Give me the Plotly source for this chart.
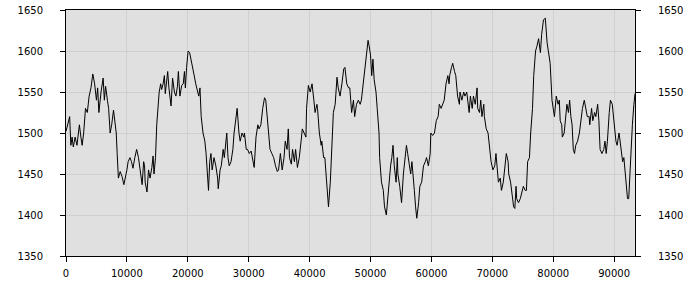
import plotly.graph_objects as go

x_vals = [0, 300, 600, 800, 1000, 1200, 1500, 1800, 2000, 2200, 2450, 2650, 2900, 3200, 3500, 3800, 4100, 4400, 4700, 5000,
          5200, 5400, 5750, 6100, 6300, 6500, 6800, 7000, 7250, 7500, 7800, 8050, 8250, 8400, 8600, 8900, 9200, 9500, 9750, 10000,
          10200, 10500, 10750, 11000, 11300, 11600, 11900, 12200, 12500, 12750, 12900, 13000, 13300, 13550, 13800, 14100, 14300, 14450, 14700, 14900,
          15100, 15300, 15550, 15700, 15950, 16150, 16300, 16500, 16700, 16900, 17100, 17250, 17500, 17800, 18050, 18300, 18450, 18700, 19000, 19250,
          19450, 19600, 19800, 20050, 20300, 20700, 21000, 21300, 21500, 21800, 22000, 22200, 22500, 22800, 23000, 23200, 23400, 23600, 23800, 24000,
          24300, 24600, 24900, 25000, 25300, 25500, 25800, 26000, 26200, 26400, 26600, 26800, 27100, 27400, 27600, 27900, 28100, 28400, 28600, 28900,
          29200, 29300, 29600, 29800, 30100, 30400, 30700, 30900, 31200, 31500, 31700, 32000, 32300, 32600, 32800, 33000, 33300, 33500, 33800, 34100,
          34400, 34700, 34900, 35200, 35500, 35800, 36000, 36300, 36500, 36700, 37000, 37200, 37500, 37700, 38000, 38300, 38600, 38800, 39100, 39400,
          39500, 39800, 40100, 40400, 40700, 40900, 41200, 41300, 41600, 41900, 42000, 42300, 42500, 42700, 42900, 43100, 43400, 43700, 43900, 44200,
          44500, 44700, 45000, 45300, 45600, 45800, 46100, 46400, 46600, 46900, 47200, 47400, 47700, 48000, 48300, 48500, 48800, 49000, 49300, 49600,
          49800, 50000, 50200, 50400, 50600, 50900, 51100, 51400, 51500, 51800, 52100, 52300, 52600, 52800, 53100, 53300, 53500, 53700, 53900, 54200,
          54400, 54500, 54800, 55100, 55400, 55700, 55900, 56100, 56400, 56600, 56800, 57000, 57200, 57400, 57600, 57900, 58100, 58400, 58700, 59000,
          59200, 59500, 59800, 59900, 60200, 60500, 60800, 61100, 61300, 61600, 61900, 62100, 62400, 62700, 62900, 63000, 63300, 63500, 63800, 64000,
          64300, 64600, 64700, 65000, 65300, 65500, 65800, 66000, 66200, 66400, 66700, 66900, 67200, 67500, 67600, 67900, 68100, 68300, 68600, 68700,
          69000, 69300, 69600, 69800, 70100, 70400, 70600, 70800, 71000, 71300, 71500, 71800, 72100, 72300, 72600, 72700, 73000, 73300, 73500, 73700,
          73900, 74000, 74300, 74600, 74900, 75100, 75400, 75600, 75800, 76100, 76300, 76600, 76800, 77100, 77300, 77600, 77900, 78100, 78400, 78700,
          79000, 79200, 79500, 79800, 80200, 80500, 80800, 81000, 81150, 81400, 81500, 81800, 82000, 82250, 82500, 82700, 82900, 83100, 83300, 83500,
          83700, 84000, 84300, 84500, 84800, 85100, 85300, 85600, 85900, 86000, 86300, 86500, 86800, 87000, 87300, 87500, 87700, 88000, 88300, 88500,
          88700, 88900, 89200, 89400, 89700, 89900, 90100, 90300, 90500, 90800, 90900, 91100, 91400, 91600, 91800, 92000, 92200, 92400, 92600, 92800,
          93000, 93250, 93430]

y_vals = [1502, 1510, 1520, 1485, 1495, 1483, 1495, 1485, 1500, 1510, 1495, 1485, 1500, 1530, 1525, 1545, 1555, 1572, 1560, 1540,
          1555, 1525, 1550, 1567, 1540, 1557, 1540, 1530, 1500, 1510, 1528, 1510, 1500, 1475, 1445, 1453, 1447, 1437, 1445, 1455,
          1465, 1470, 1465, 1457, 1470, 1480, 1470, 1450, 1437, 1465, 1460, 1440, 1428, 1455, 1445, 1458, 1472, 1450, 1470, 1510,
          1530, 1550, 1560, 1553, 1560, 1570, 1548, 1560, 1575, 1555, 1545, 1533, 1567, 1550, 1545, 1557, 1575, 1545, 1558, 1560,
          1575, 1555, 1580, 1600, 1598, 1585, 1572, 1560, 1555, 1545, 1555, 1520, 1500, 1490, 1475, 1445, 1430, 1465, 1475, 1455,
          1470, 1460, 1445, 1432, 1455, 1460, 1480, 1470, 1485, 1500, 1470, 1460, 1465, 1480, 1500, 1520, 1530, 1500, 1490, 1500,
          1495, 1500, 1480, 1480, 1475, 1478, 1465, 1458, 1495, 1510, 1505, 1510, 1530, 1543, 1540, 1525, 1500, 1480, 1475, 1470,
          1460, 1453, 1455, 1475, 1455, 1470, 1490, 1480, 1505, 1470, 1462, 1480, 1465, 1480, 1458, 1470, 1490, 1505, 1500, 1495,
          1530, 1558, 1550, 1560, 1540, 1525, 1535, 1530, 1500, 1485, 1490, 1470, 1470, 1450, 1425, 1410, 1440, 1500, 1525, 1535,
          1568, 1555, 1545, 1560, 1578, 1580, 1560, 1555, 1555, 1525, 1540, 1520, 1535, 1540, 1535, 1540, 1558, 1575, 1590, 1613,
          1605, 1595, 1570, 1590, 1565, 1550, 1530, 1500, 1470, 1440, 1430, 1410, 1400, 1420, 1440, 1460, 1470, 1485, 1460, 1440,
          1470, 1450, 1435, 1415, 1450, 1475, 1485, 1475, 1460, 1450, 1465, 1440, 1430, 1410, 1396, 1415, 1435, 1440, 1460, 1465,
          1470, 1460, 1475, 1500, 1497, 1500, 1515, 1520, 1535, 1530, 1535, 1540, 1560, 1570, 1560, 1570, 1580, 1585, 1575, 1570,
          1545, 1535, 1550, 1540, 1550, 1545, 1550, 1535, 1525, 1545, 1530, 1545, 1535, 1555, 1530, 1525, 1540, 1520, 1535, 1520,
          1505, 1500, 1480, 1465, 1455, 1460, 1475, 1460, 1440, 1445, 1430, 1440, 1460, 1475, 1465, 1450, 1440, 1420, 1410, 1408,
          1435, 1420, 1415, 1420, 1430, 1435, 1430, 1430, 1465, 1470, 1500, 1530, 1570, 1600, 1605, 1615, 1598, 1620, 1638, 1640,
          1610, 1600, 1585, 1540, 1520, 1545, 1535, 1540, 1515, 1510, 1495, 1500, 1515, 1535, 1525, 1540, 1520, 1510, 1480, 1475,
          1485, 1490, 1500, 1515, 1530, 1540, 1530, 1520, 1520, 1510, 1530, 1515, 1525, 1520, 1535, 1515, 1480, 1475, 1480, 1490,
          1475, 1490, 1525, 1540, 1535, 1520, 1505, 1490, 1485, 1500, 1495, 1480, 1465, 1470, 1450, 1435, 1420, 1420, 1450, 1490,
          1510, 1535, 1548]

y_ticks = [1350, 1400, 1450, 1500, 1550, 1600, 1650]
x_ticks = [0, 10000, 20000, 30000, 40000, 50000, 60000, 70000, 80000, 90000]

fig = go.Figure()
fig.add_trace(go.Scatter(x=x_vals, y=y_vals, mode="lines",
                         line=dict(color="black", width=1), showlegend=False,
                         hoverinfo="x+y"))
# same series bound to the right-hand axis (drawn transparent) so that axis is rendered
fig.add_trace(go.Scatter(x=x_vals, y=y_vals, mode="lines", yaxis="y2",
                         line=dict(color="rgba(0,0,0,0)", width=1), showlegend=False,
                         hoverinfo="skip"))

font = dict(family="DejaVu Sans", size=10, color="black")
fig.update_layout(
    width=700, height=300,
    margin=dict(l=66, r=65, t=10, b=44, autoexpand=False),
    paper_bgcolor="white",
    plot_bgcolor="#e0e0e0",
    font=font,
    xaxis=dict(range=[0, x_vals[-1]], tickvals=x_ticks, ticktext=[str(v) for v in x_ticks],
               showgrid=True, gridcolor="#d0d0d0", gridwidth=1, zeroline=False,
               showline=True, linecolor="black", linewidth=1, mirror=True, automargin=False,
               ticks="outside", ticklen=5, tickcolor="black", tickfont=font,
               ticklabelstandoff=3),
    yaxis=dict(range=[1350, 1650], tickvals=y_ticks, ticktext=[str(v) for v in y_ticks],
               showgrid=True, gridcolor="#d0d0d0", gridwidth=1, zeroline=False,
               showline=True, linecolor="black", linewidth=1, mirror=True, automargin=False,
               ticks="outside", ticklen=5, tickcolor="black", tickfont=font,
               ticklabelstandoff=15),
    yaxis2=dict(range=[1350, 1650], tickvals=y_ticks, ticktext=[str(v) for v in y_ticks],
                overlaying="y", side="right", showgrid=False, zeroline=False, automargin=False,
                showline=True, linecolor="black", linewidth=1,
                ticks="outside", ticklen=5, tickcolor="black", tickfont=font,
                ticklabelstandoff=15),
)
fig.write_html("out.html")
